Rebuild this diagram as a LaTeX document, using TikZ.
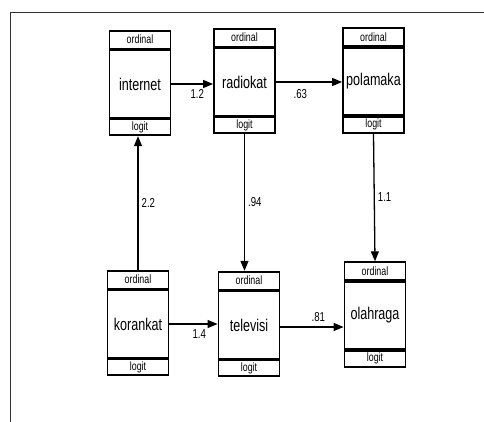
\documentclass[tikz,border=0pt]{standalone}
\usepackage{fontspec}
\setmainfont[FakeStretch=0.74]{Liberation Sans}
\usepackage{tikz}
\usetikzlibrary{arrows.meta,positioning}
\tikzset{
  % variable box (middle part)
  varbox/.style={rectangle, draw, line width=1.8pt, minimum width=61pt, minimum height=67pt,
                 inner sep=0pt, font=\fontsize{17}{18}\selectfont},
  % ordinal band on top
  ordband/.style={rectangle, draw, line width=1.8pt, minimum width=61pt, minimum height=18pt,
                  inner sep=0pt, font=\fontsize{12}{12}\selectfont},
  % logit band below
  logband/.style={rectangle, draw, line width=1.8pt, minimum width=61pt, minimum height=16pt,
                  inner sep=0pt, font=\fontsize{12}{12}\selectfont},
  % path arrow
  patharrow/.style={-{Triangle[length=10pt,width=8pt]}, line width=1.3pt},
  % coefficient label
  coef/.style={font=\fontsize{13}{14}\selectfont, inner sep=2pt},
}
\begin{document}
\begin{tikzpicture}[x=1pt,y=-1pt]
  \useasboundingbox (0,0) rectangle (484,422);
  % frame
  \draw[line width=0.8pt, black!80] (10,422) -- (10,12) -- (484,12);
  % top row
  \node[varbox] (inet) at (140,84) {internet};
  \node[ordband, above=0pt of inet] (inet-o) {ordinal};
  \node[logband, below=0pt of inet] (inet-l) {logit};
  \node[varbox] (radio) at (244.5,82) {radiokat};
  \node[ordband, above=0pt of radio] (radio-o) {ordinal};
  \node[logband, below=0pt of radio] (radio-l) {logit};
  \node[varbox] (pola) at (373.5,81.5) {polamaka};
  \node[ordband, above=0pt of pola] (pola-o) {ordinal};
  \node[logband, below=0pt of pola] (pola-l) {logit};
  % bottom row
  \node[varbox] (koran) at (138,324) {korankat};
  \node[ordband, above=0pt of koran] (koran-o) {ordinal};
  \node[logband, below=0pt of koran] (koran-l) {logit};
  \node[varbox] (tele) at (249,325) {televisi};
  \node[ordband, above=0pt of tele] (tele-o) {ordinal};
  \node[logband, below=0pt of tele] (tele-l) {logit};
  \node[varbox] (olah) at (375,315.5) {olahraga};
  \node[ordband, above=0pt of olah] (olah-o) {ordinal};
  \node[logband, below=0pt of olah] (olah-l) {logit};
  % paths
  \draw[patharrow] (inet.east) -- (radio.west |- inet.east) node[coef, pos=0.62, below=3pt]{1.2};
  \draw[patharrow] (radio.east) -- (pola.west |- radio.east) node[coef, pos=0.37, below=5pt]{.63};
  \draw[patharrow] (pola-l.south) -- (olah-o.north) node[coef, midway, right=1pt]{1.1};
  \draw[patharrow] (radio-l.south) -- (radio-l.south |- tele-o.north) node[coef, midway, right=1pt]{.94};
  \draw[patharrow] (koran-o.north) -- (koran-o.north |- inet-l.south) node[coef, midway, right=1pt]{2.2};
  \draw[patharrow] (koran.east) -- (tele.west |- koran.east) node[coef, pos=0.62, below=3pt]{1.4};
  \draw[patharrow] (tele.west -| tele.east) ++(0,2) -- (olah.west |- 0,327) node[coef, pos=0.6, above=3pt]{.81};
\end{tikzpicture}
\end{document}
